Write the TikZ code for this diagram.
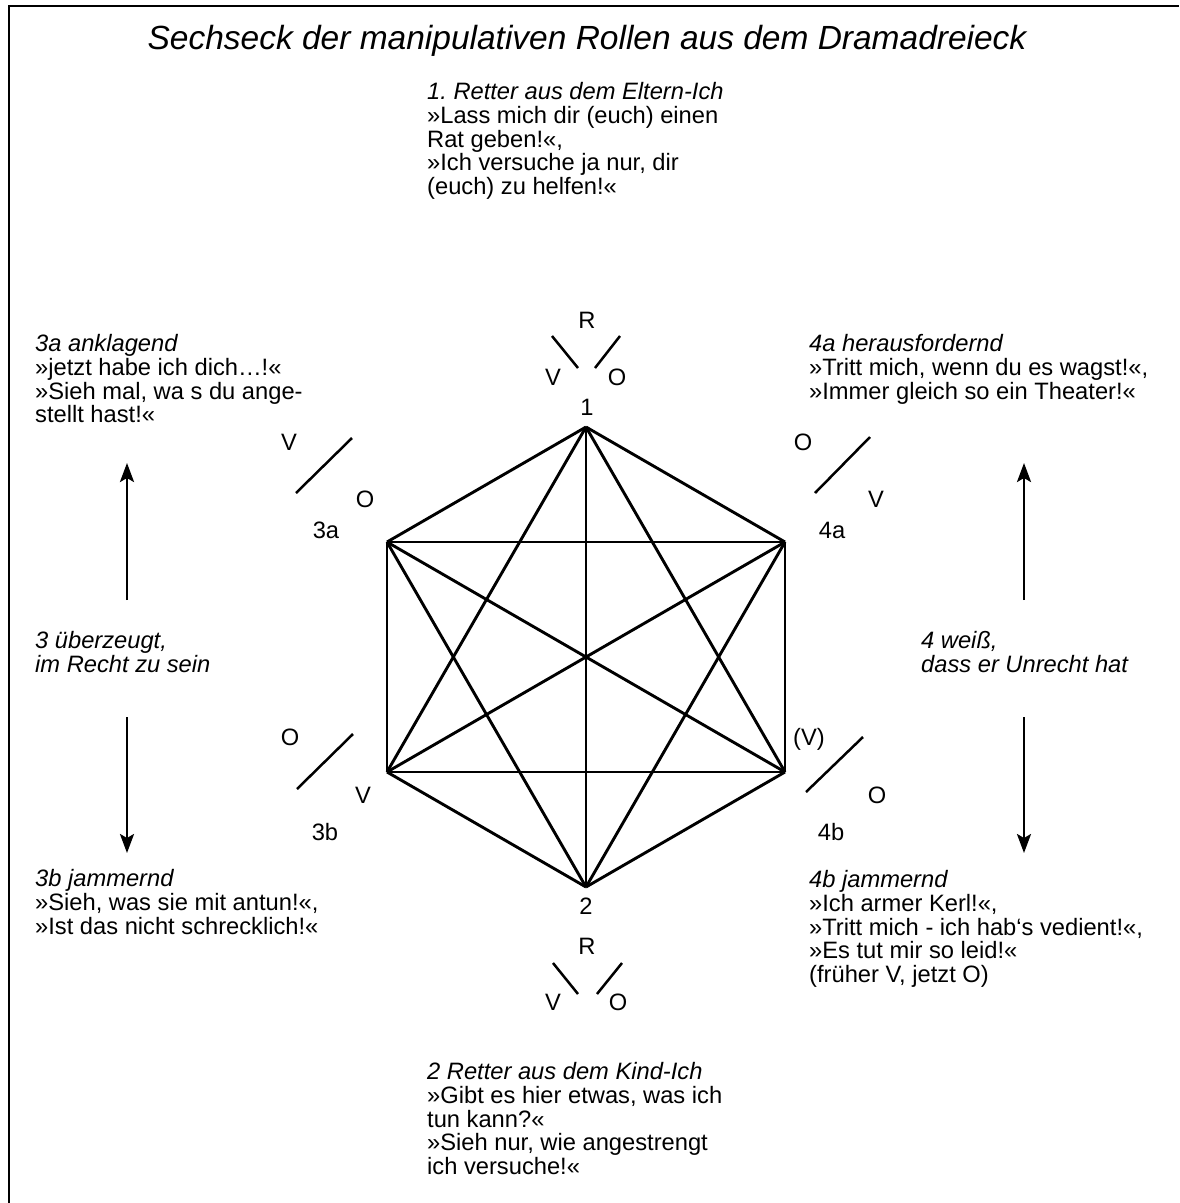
\documentclass[tikz,border=0pt]{standalone}
\usepackage{fontspec}
\setmainfont{Liberation Sans}
\usetikzlibrary{arrows.meta}
\frenchspacing

\newcommand{\bodyfont}{\fontsize{23.7}{23.6}\selectfont}
\newcommand{\titlefont}{\fontsize{33.5}{36}\selectfont\itshape}

\tikzset{
  txt/.style={anchor=north west,align=left,inner sep=0pt,font=\bodyfont},
  lbl/.style={inner sep=0pt,font=\bodyfont},
  side/.style={line width=2.9pt,line join=round},
  slash/.style={line width=2.5pt},
  flow/.style={line width=2.5pt,-{Stealth[length=19pt,width=14pt,inset=4pt]}}
}

\begin{document}
\begin{tikzpicture}[x=1pt,y=-1pt]
  \useasboundingbox (0,0) rectangle (1179,1203);

  % frame (only top and left visible)
  \draw[line width=2.5pt] (9,1203) -- (9,6) -- (1179,6);

  % title
  \node[inner sep=0pt,font=\titlefont] (title) at (587,41)
    {Sechseck der manipulativen Rollen aus dem Dramadreieck};

  % corners of the hexagon
  \coordinate (v1)  at (586,427);
  \coordinate (v3a) at (387,542);
  \coordinate (v4a) at (785,542);
  \coordinate (v3b) at (387,772);
  \coordinate (v4b) at (785,772);
  \coordinate (v2)  at (586,887);

  % every corner joined with every other one
  \foreach \a/\b in {v1/v3a,v1/v4a,v1/v3b,v1/v4b,v1/v2,
                     v3a/v4a,v3a/v3b,v3a/v4b,v3a/v2,
                     v4a/v3b,v4a/v4b,v4a/v2,
                     v3b/v4b,v3b/v2,v4b/v2}
    \draw[side] (\a) -- (\b);

  % role 1 (top)
  \node[lbl] (r1) at (587,320) {R};
  \draw[slash] (552,336) -- (578,368);
  \draw[slash] (595,368) -- (620,336);
  \node[lbl] (v1l) at (553,377) {V};
  \node[lbl] (o1l) at (617,377) {O};
  \node[lbl] (n1) at (587,407) {1};

  % role 3a
  \node[lbl] (v3al) at (289,442) {V};
  \draw[slash] (296,493) -- (352,438);
  \node[lbl] (o3al) at (365,499) {O};
  \node[lbl] (n3a) at (326,530) {3a};

  % role 4a
  \node[lbl] (o4al) at (803,442) {O};
  \draw[slash] (815,493) -- (870,437);
  \node[lbl] (v4al) at (876,499) {V};
  \node[lbl] (n4a) at (832,530) {4a};

  % role 3b
  \node[lbl] (o3bl) at (290,737) {O};
  \draw[slash] (297,789) -- (353,734);
  \node[lbl] (v3bl) at (363,795) {V};
  \node[lbl] (n3b) at (325,832) {3b};

  % role 4b
  \node[lbl] (v4bl) at (809,739) {(V)};
  \draw[slash] (806,792) -- (863,737);
  \node[lbl] (o4bl) at (877,795) {O};
  \node[lbl] (n4b) at (831,832) {4b};

  % role 2 (bottom)
  \node[lbl] (n2) at (586,906) {2};
  \node[lbl] (r2) at (587,946) {R};
  \draw[slash] (553,963) -- (578,994);
  \node[lbl] (v2l) at (553,1002) {V};
  \draw[slash] (597,994) -- (622,963);
  \node[lbl] (o2l) at (618,1002) {O};

  % texts
  \node[txt] (t1) at (427,82.6) {\textit{1. Retter aus dem Eltern-Ich}\\
    »Lass mich dir (euch) einen\\Rat geben!«,\\»Ich versuche ja nur, dir\\(euch) zu helfen!«};
  \node[txt] (t3a) at (35,334.6) {\textit{3a anklagend}\\»jetzt habe ich dich…!«\\
    »Sieh mal, wa s du ange-\\stellt hast!«};
  \node[txt] (t4a) at (809,334.6) {\textit{4a herausfordernd}\\
    »Tritt mich, wenn du es wagst!«,\\»Immer gleich so ein Theater!«};
  \node[txt,font=\bodyfont\itshape] (t3) at (35,631.6) {3 überzeugt,\\im Recht zu sein};
  \node[txt,font=\bodyfont\itshape] (t4) at (921,631.6) {4 weiß,\\dass er Unrecht hat};
  \node[txt] (t3b) at (35,869.6) {\textit{3b jammernd}\\»Sieh, was sie mit antun!«,\\
    »Ist das nicht schrecklich!«};
  \node[txt] (t4b) at (809,870.6) {\textit{4b jammernd}\\»Ich armer Kerl!«,\\
    »Tritt mich - ich hab‘s vedient!«,\\»Es tut mir so leid!«\\(früher V, jetzt O)};
  \node[txt] (t2) at (427,1062.6) {\textit{2 Retter aus dem Kind-Ich}\\
    »Gibt es hier etwas, was ich\\tun kann?«\\»Sieh nur, wie angestrengt\\ich versuche!«};

  % arrows left and right
  \coordinate (l3mid) at (127,600);
  \coordinate (l3top) at (127,463);
  \coordinate (l3low) at (127,717);
  \coordinate (l3bot) at (127,853);
  \coordinate (r4mid) at (1024,600);
  \coordinate (r4top) at (1024,463);
  \coordinate (r4low) at (1024,717);
  \coordinate (r4bot) at (1024,853);
  \draw[flow] (l3mid) -- (l3top);
  \draw[flow] (l3low) -- (l3bot);
  \draw[flow] (r4mid) -- (r4top);
  \draw[flow] (r4low) -- (r4bot);
\end{tikzpicture}
\end{document}
